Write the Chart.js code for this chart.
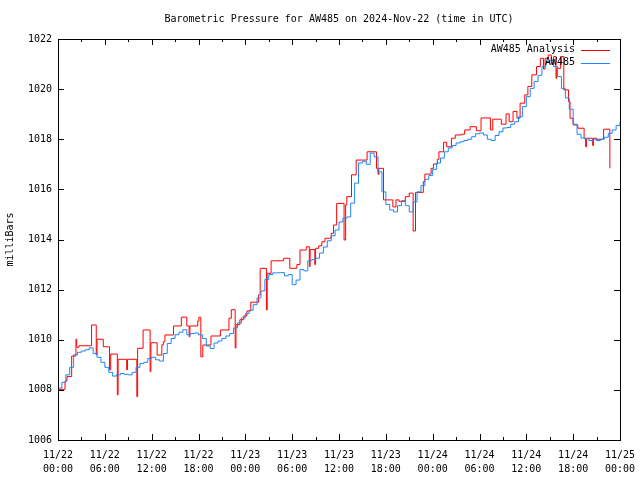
<!DOCTYPE html>
<html><head><meta charset="utf-8">
<script src="https://cdn.jsdelivr.net/npm/chart.js@4"></script>
<style>html,body{margin:0;padding:0;background:#fff}</style>
</head><body>
<canvas id="c" width="640" height="480"></canvas>
<script>
const titleText = "Barometric Pressure for AW485 on 2024-Nov-22 (time in UTC)";
const yAxisTitle = "milliBars";
const xTickLabels = [["11/22","00:00"],["11/22","06:00"],["11/22","12:00"],["11/22","18:00"],
  ["11/23","00:00"],["11/23","06:00"],["11/23","12:00"],["11/23","18:00"],
  ["11/24","00:00"],["11/24","06:00"],["11/24","12:00"],["11/24","18:00"],["11/25","00:00"]];
const yTickValues = [1006,1008,1010,1012,1014,1016,1018,1020,1022];
const redLabel = "AW485 Analysis";
const blueLabel = "AW485";

// AW485 observations, every 30 minutes from 11/22 00:00 (hours since start = index*0.5)
const blueValues = [
1008.07,1008.3,1008.6,1008.9,1009.4,1009.5,1009.55,1009.6,1009.68,1009.45,
1009.3,1009.1,1008.9,1008.7,1008.55,1008.6,1008.65,1008.62,1008.6,1008.7,
1008.9,1009.05,1009.1,1009.25,1009.3,1009.2,1009.15,1009.45,1009.85,1010.05,
1010.2,1010.3,1010.4,1010.2,1010.25,1010.27,1010.2,1010.05,1009.75,1009.65,
1009.87,1009.95,1010.05,1010.15,1010.25,1010.47,1010.67,1010.87,1011.05,1011.18,
1011.4,1011.67,1011.95,1012.4,1012.6,1012.67,1012.67,1012.68,1012.55,1012.6,
1012.2,1012.38,1012.8,1012.75,1013.15,1013.2,1013.25,1013.46,1013.7,1013.95,
1014.15,1014.38,1014.7,1014.85,1014.9,1015.45,1016.25,1017.05,1017.12,1017.0,
1017.45,1017.3,1016.7,1015.9,1015.4,1015.18,1015.1,1015.35,1015.55,1015.35,
1015.1,1015.5,1015.9,1016.15,1016.4,1016.55,1016.8,1017.05,1017.25,1017.5,
1017.65,1017.75,1017.85,1017.9,1017.95,1018.0,1018.1,1018.22,1018.25,1018.17,
1018.0,1017.95,1018.15,1018.3,1018.45,1018.47,1018.6,1018.7,1018.9,1019.3,
1019.7,1020.03,1020.3,1020.55,1020.9,1021.1,1021.15,1020.9,1020.5,1020.03,
1019.65,1019.2,1018.6,1018.2,1018.05,1018.02,1017.95,1018.0,1017.95,1018.0,
1018.08,1018.24,1018.37,1018.55,1018.7];

// AW485 Analysis: hours since 11/22 00:00 where each value starts
const redTimes = [0,0.9,1.15,1.75,2.3,2.4,2.7,4.3,4.9,5.0,5.8,6.6,6.75,7.6,7.7,8.8,8.9,10.1,10.2,10.9,
  11.8,11.9,12.7,13.3,13.5,13.7,14.8,15.8,16.5,16.8,16.9,17.9,18.05,18.3,18.55,19.6,20.8,21.9,22.2,22.7,
  22.8,23.3,23.8,24.2,24.7,25.7,25.9,26.7,26.8,27.3,28.9,29.7,30.6,31.0,31.8,32.2,32.3,32.9,33.0,33.4,
  33.8,34.2,35.0,35.3,35.7,36.65,36.85,37.0,37.6,38.2,39.6,40.8,41.0,41.1,41.7,42.9,43.3,43.7,44.5,45.0,
  45.5,45.8,46.8,47.0,47.8,48.1,48.6,48.8,49.4,49.8,50.4,50.9,51.7,52.1,52.8,53.6,54.2,55.4,55.7,56.8,
  57.4,57.8,58.3,58.8,59.2,59.8,60.2,60.7,61.3,61.8,62.2,62.4,62.8,63.2,63.5,63.8,63.9,64.4,64.8,65.4,
  65.6,66.0,66.6,67.4,67.6,67.7,68.5,68.6,69.0,69.9,70.7];
const redValues = [1008.02,1008.35,1008.53,1009.35,1010.02,1009.7,1009.76,1010.59,1009.4,1010.02,1009.72,1008.8,1009.43,1007.8,1009.22,1008.8,1009.22,1007.73,1009.66,1010.39,
  1008.73,1009.88,1009.39,1009.8,1009.92,1010.19,1010.55,1010.9,1010.55,1010.12,1010.55,1010.75,1010.9,1009.32,1009.79,1010.15,1010.39,1010.86,1011.2,1009.67,
  1010.6,1010.8,1010.95,1011.15,1011.5,1011.79,1012.85,1011.19,1012.65,1013.15,1013.25,1012.85,1013.0,1013.58,1013.71,1012.92,1013.6,1013.0,1013.65,1013.75,
  1013.91,1014.05,1014.25,1014.58,1015.44,1013.98,1015.38,1015.71,1016.58,1017.17,1017.5,1016.84,1016.6,1016.84,1015.58,1015.3,1015.58,1015.52,1015.71,1015.85,
  1014.34,1015.88,1016.31,1016.61,1016.84,1017.01,1017.2,1017.5,1017.88,1017.7,1018.04,1018.17,1018.2,1018.37,1018.5,1018.34,1018.85,1018.37,1018.8,1018.6,
  1019.01,1018.7,1019.11,1018.84,1019.44,1019.77,1020.11,1020.57,1020.9,1021.23,1020.8,1021.23,1021.36,1021.0,1021.3,1020.43,1020.83,1021.3,1019.97,1019.5,
  1018.84,1018.57,1018.44,1018.04,1017.7,1018.04,1017.75,1018.04,1018.0,1018.4,1016.84];

const FONT = "'DejaVu Sans Mono', 'Liberation Mono', monospace";
const blueData = blueValues.map((v, i) => ({x: i * 0.5, y: v}));
const redData = redTimes.map((t, i) => ({x: t, y: redValues[i]}));

const framePlugin = {
  id: 'frame',
  afterDatasetsDraw(chart) {
    const {ctx, chartArea: a, scales: {x, y}} = chart;
    ctx.save();
    // title centred over the plot area
    ctx.font = '10px ' + FONT;
    ctx.fillStyle = '#000';
    ctx.textAlign = 'center';
    ctx.textBaseline = 'middle';
    ctx.fillText(titleText, (a.left + a.right) / 2, 19);

    ctx.strokeStyle = '#000';
    ctx.lineWidth = 1;
    ctx.beginPath();
    for (let h = 0; h <= 72; h += 3) {
      const px = Math.round(x.getPixelForValue(h)) + 0.5;
      const len = (h % 6 === 0) ? 6 : 3;
      ctx.moveTo(px, a.bottom); ctx.lineTo(px, a.bottom - len);
      ctx.moveTo(px, a.top); ctx.lineTo(px, a.top + len);
    }
    yTickValues.forEach(v => {
      const py = Math.round(y.getPixelForValue(v)) + 0.5;
      ctx.moveTo(a.left, py); ctx.lineTo(a.left + 6, py);
      ctx.moveTo(a.right, py); ctx.lineTo(a.right - 6, py);
    });
    ctx.stroke();
    ctx.strokeRect(Math.round(a.left) + 0.5, Math.round(a.top) + 0.5,
      Math.round(a.right - a.left), Math.round(a.bottom - a.top));
    // key
    ctx.textAlign = 'right';
    const items = [[chart.data.datasets[0], 49.5], [chart.data.datasets[1], 62.5]];
    items.forEach(([ds, yy]) => {
      ctx.fillText(ds.label, 575, yy);
      ctx.beginPath();
      ctx.strokeStyle = ds.borderColor;
      ctx.moveTo(581, Math.round(yy) + 0.5); ctx.lineTo(610, Math.round(yy) + 0.5);
      ctx.stroke();
    });
    ctx.restore();
  }
};

new Chart(document.getElementById('c'), {
  type: 'line',
  data: {
    datasets: [
      {label: redLabel, data: redData, borderColor: '#ff0000', borderWidth: 1, stepped: true,
       pointRadius: 0, fill: false, order: 2},
      {label: blueLabel, data: blueData, borderColor: '#1a86ff', borderWidth: 1, stepped: true,
       pointRadius: 0, fill: false, order: 1}
    ]
  },
  options: {
    responsive: false,
    animation: false,
    devicePixelRatio: 1,
    layout: {padding: {left: 0, right: 20, top: 39, bottom: 0}},
    plugins: {
      legend: {display: false},
      tooltip: {enabled: false},
      title: {display: false}
    },
    scales: {
      x: {
        type: 'linear', min: 0, max: 72,
        grid: {display: false, drawTicks: false},
        border: {display: false},
        ticks: {stepSize: 6, autoSkip: false, maxRotation: 0, padding: 8, color: '#000',
          font: {family: FONT, size: 10, lineHeight: 1.4},
          callback: (v) => xTickLabels[Math.round(v / 6)]},
        afterFit: (s) => { s.height = 40; s.paddingLeft = 0; s.paddingRight = 0; }
      },
      y: {
        min: 1006, max: 1022,
        grid: {display: false, drawTicks: false},
        border: {display: false},
        ticks: {stepSize: 2, padding: 6, color: '#000', font: {family: FONT, size: 10},
          callback: (v) => String(v)},
        title: {display: true, text: yAxisTitle, color: '#000', font: {family: FONT, size: 10},
          padding: {top: 4, bottom: 0}},
        afterFit: (s) => { s.width = 58; s.paddingTop = 0; s.paddingBottom = 0; }
      }
    }
  },
  plugins: [framePlugin]
});
</script>
</body></html>
